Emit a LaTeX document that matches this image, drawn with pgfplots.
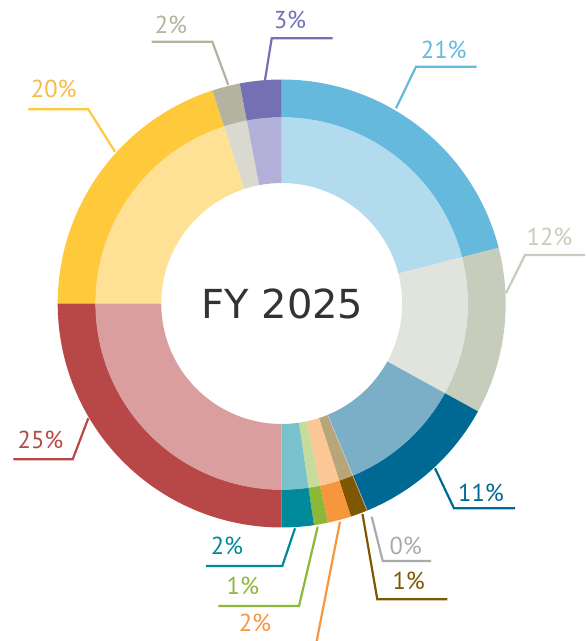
\documentclass[border=0pt]{standalone}
\usepackage{pgfplots}
\pgfplotsset{compat=1.18}
\usepackage{fontspec}
\newfontfamily\labfont{PT Sans}
\newfontfamily\ttlfont{DejaVu Sans}
% outer / inner colours
\definecolor{cA}{HTML}{64B9DD}\definecolor{iA}{HTML}{B2DBED}
\definecolor{cB}{HTML}{C6CDBC}\definecolor{iB}{HTML}{E1E3DD}
\definecolor{cC}{HTML}{006993}\definecolor{iC}{HTML}{7AAFC7}
\definecolor{cD}{HTML}{AAAAAA}\definecolor{iD}{HTML}{CCCCCC}
\definecolor{cE}{HTML}{7F5700}\definecolor{iE}{HTML}{B8A67A}
\definecolor{cF}{HTML}{F7963D}\definecolor{iF}{HTML}{FAC795}
\definecolor{cG}{HTML}{8CB83A}\definecolor{iG}{HTML}{C6DC9C}
\definecolor{cH}{HTML}{008A99}\definecolor{iH}{HTML}{7AC2CB}
\definecolor{cI}{HTML}{B84848}\definecolor{iI}{HTML}{DA9E9E}
\definecolor{cJ}{HTML}{FFC93C}\definecolor{iJ}{HTML}{FFE195}
\definecolor{tJ}{HTML}{F7BA45}
\definecolor{cK}{HTML}{B3B3A0}\definecolor{iK}{HTML}{D9D9CF}
\definecolor{cL}{HTML}{7470B4}\definecolor{iL}{HTML}{B2B0D8}
\definecolor{ttl}{HTML}{333333}
\newcommand\seg[4]{%
\fill[#3, shift={(axis cs:281.7,337.5)}] ({90-3.6*#1}:224pt) arc[start angle={90-3.6*#1}, end angle={90-3.6*#2}, radius=224pt] -- ({90-3.6*#2}:186pt) arc[start angle={90-3.6*#2}, end angle={90-3.6*#1}, radius=186pt] -- cycle;
\fill[#4, shift={(axis cs:281.7,337.5)}] ({90-3.6*#1}:186.3pt) arc[start angle={90-3.6*#1}, end angle={90-3.6*#2}, radius=186.3pt] -- ({90-3.6*#2}:120.5pt) arc[start angle={90-3.6*#2}, end angle={90-3.6*#1}, radius=120.5pt] -- cycle;}
\newcommand\lab[4]{\node[anchor=base, inner sep=0pt, text=#1, font=\labfont\fontsize{24.5}{24.5}\selectfont] at (axis cs:#2,#3) {#4};}
\begin{document}
\begin{tikzpicture}
\begin{axis}[name=ax, x=1pt, y=1pt, xmin=0, xmax=587, ymin=0, ymax=641, hide axis, clip=false]
% leader lines
\draw[cA, line width=2.2pt] (axis cs:396,532.7) -- (axis cs:416,574.3) -- (axis cs:476.7,574.3);
\draw[cB, line width=2.2pt] (axis cs:506,347.7) -- (axis cs:525,386) -- (axis cs:585,386);
\draw[cC, line width=2.2pt] (axis cs:435,172.7) -- (axis cs:454,132.7) -- (axis cs:515,132.7);
\draw[cD, line width=2.2pt] (axis cs:371.7,124.3) -- (axis cs:382.7,80) -- (axis cs:431,80);
\draw[cE, line width=2.2pt] (axis cs:362.5,127) -- (axis cs:377.3,41.7) -- (axis cs:447.3,41.7);
\draw[cH, line width=2.2pt] (axis cs:295,112.7) -- (axis cs:282.3,75) -- (axis cs:206,75);
\draw[cG, line width=2.2pt] (axis cs:317.7,114.3) -- (axis cs:299,35) -- (axis cs:218.3,35);
\draw[cF, line width=2.2pt] (axis cs:340,119.3) -- (axis cs:316.7,0);
\draw[cI, line width=2.2pt] (axis cs:88.3,222.7) -- (axis cs:72.7,181.7) -- (axis cs:13.3,181.7);
\draw[cJ, line width=2.2pt] (axis cs:115,489.3) -- (axis cs:88.3,531.7) -- (axis cs:28.3,531.7);
\draw[cK, line width=2.2pt] (axis cs:228.3,556) -- (axis cs:212.3,599.3) -- (axis cs:151.7,599.3);
\draw[cL, line width=2.2pt] (axis cs:265,561) -- (axis cs:271.7,602.7) -- (axis cs:332.7,602.7);
% segments: start %, end % (clockwise from top)
\seg{0}{21}{cA}{iA}
\seg{21}{33}{cB}{iB}
\seg{33}{43.75}{cC}{iC}
\seg{43.75}{43.8}{cD}{iD}
\seg{43.8}{45}{cE}{iE}
\seg{45}{46.7}{cF}{iF}
\seg{46.7}{47.7}{cG}{iG}
\seg{47.7}{50}{cH}{iH}
\seg{50}{75}{cI}{iI}
\seg{75}{95}{cJ}{iJ}
\seg{95}{97}{cK}{iK}
\seg{97}{100}{cL}{iL}
% labels
\lab{cA}{443.8}{582.7}{21\%}
\lab{cB}{549.5}{395}{12\%}
\lab{cC}{481}{139}{11\%}
\lab{cD}{405.7}{86}{0\%}
\lab{cE}{408.7}{51}{1\%}
\lab{cH}{227}{86}{2\%}
\lab{cG}{242.8}{46}{1\%}
\lab{cF}{255}{9.3}{2\%}
\lab{cI}{40.5}{192.7}{25\%}
\lab{tJ}{53.8}{543.7}{20\%}
\lab{cK}{171}{607.7}{2\%}
\lab{cL}{290}{612.7}{3\%}
\node[inner sep=0pt, text=ttl, font=\ttlfont\fontsize{40}{40}\selectfont] at (axis cs:282.5,336.7) {FY 2025};
\end{axis}
\pgfresetboundingbox
\path (ax.south west) rectangle (ax.north east);
\end{tikzpicture}
\end{document}
